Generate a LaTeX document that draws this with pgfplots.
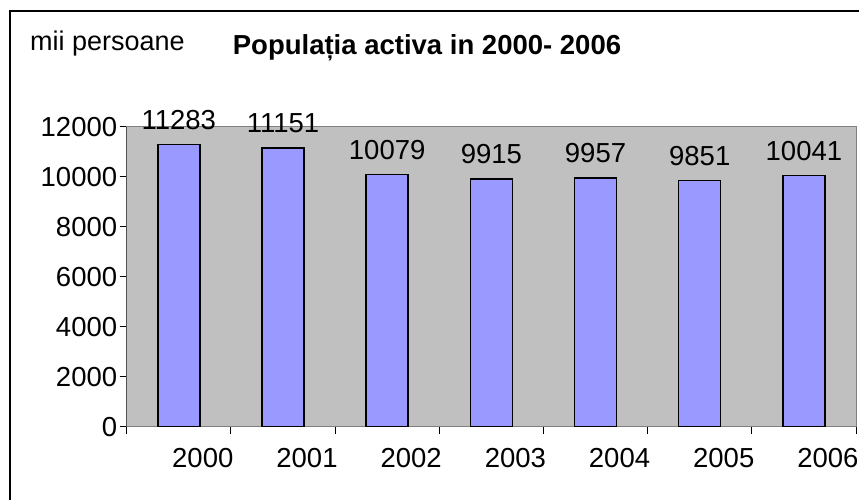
\documentclass[border=0pt]{standalone}
\usepackage{fontspec}
\setmainfont{Liberation Sans}
\usepackage{pgfplots}
\pgfplotsset{compat=1.18}
\definecolor{barblue}{HTML}{9999FF}
\definecolor{plotgray}{HTML}{C0C0C0}
\definecolor{bordergray}{HTML}{808080}
\begin{document}
\begin{tikzpicture}[x=1pt,y=1pt]
\useasboundingbox (0,0) rectangle (859,499);
\begin{axis}[
  at={(126.7pt,72.3pt)}, anchor=south west,
  width=729.3pt, height=300pt, scale only axis,
  xmin=-0.5, xmax=6.5, ymin=0, ymax=12000,
  ytick={0,2000,...,12000},
  scaled y ticks=false,
  xtick={-0.5,0.5,...,6.5}, xticklabels={},
  extra x ticks={0,1,2,3,4,5,6},
  extra x tick labels={2000,2001,2002,2003,2004,2005,2006},
  extra x tick style={tick style={draw=none}, xticklabel style={xshift=24pt, yshift=-11pt}},
  tick align=outside, major tick length=7pt,
  xtick pos=bottom, ytick pos=left,
  axis background/.style={fill=plotgray},
  axis line style={draw=bordergray, line width=1pt},
  tick style={draw=black, line width=0.8pt},
  ticklabel style={font=\fontsize{27.5}{30}\selectfont},
  yticklabel style={xshift=1pt},
  /pgf/number format/assume math mode=true,
  /pgf/number format/1000 sep={},
  ybar, bar width=42pt,
  nodes near coords,
  nodes near coords style={font=\fontsize{27.5}{30}\selectfont, inner sep=0pt, anchor=south, yshift=14pt},
]
\addplot[fill=barblue, draw=black, line width=1.5pt] coordinates {(0,11283) (1,11151) (2,10079) (3,9915) (4,9957) (5,9851) (6,10041)};
\draw[black, line width=1.2pt] (rel axis cs:0,0) -- (rel axis cs:0,1);
\end{axis}
\node[anchor=base west, inner sep=0pt, font=\fontsize{27}{30}\selectfont] at (30,448) {mii persoane};
\node[anchor=base, inner sep=0pt, font=\bfseries\fontsize{27.5}{30}\selectfont] at (427,444) {Populația activa in 2000- 2006};
\draw[line width=1.5pt] (10,-20) |- (900,488);
\end{tikzpicture}
\end{document}
